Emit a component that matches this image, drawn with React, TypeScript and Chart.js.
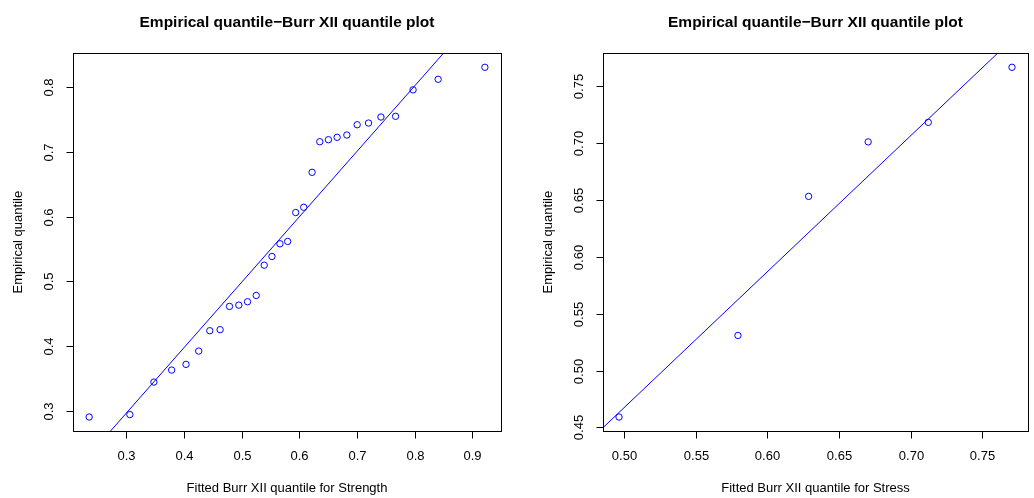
import React, { useEffect, useRef } from "react";
import { Chart, registerables } from "chart.js";

Chart.register(...registerables);

// ---- Data: Strength panel ----
const strengthFitted = [
  0.2357, 0.3063, 0.348, 0.3788, 0.4037, 0.4257, 0.4449, 0.4628, 0.4791, 0.4953,
  0.5104, 0.5254, 0.5393, 0.5527, 0.5666, 0.58, 0.5939, 0.6078, 0.6223, 0.6357,
  0.6506, 0.6657, 0.6826, 0.7005, 0.7202, 0.7417, 0.7671, 0.7974, 0.8409, 0.9219,
];
const strengthEmpirical = [
  0.2908, 0.2945, 0.3447, 0.3632, 0.372, 0.3925, 0.4239, 0.4255, 0.4614, 0.4634,
  0.4686, 0.4783, 0.525, 0.5384, 0.558, 0.5616, 0.6062, 0.6143, 0.6682, 0.7154,
  0.7185, 0.7222, 0.7257, 0.7416, 0.7442, 0.7535, 0.7546, 0.7954, 0.8117, 0.8302,
];
const strengthXTickValues = [0.3, 0.4, 0.5, 0.6, 0.7, 0.8, 0.9];
const strengthXTickLabels = ["0.3", "0.4", "0.5", "0.6", "0.7", "0.8", "0.9"];
const strengthYTickValues = [0.3, 0.4, 0.5, 0.6, 0.7, 0.8];
const strengthYTickLabels = ["0.3", "0.4", "0.5", "0.6", "0.7", "0.8"];
const strengthLineIntercept = -0.0062;
const strengthLineSlope = 1.0094;

// ---- Data: Stress panel ----
const stressFitted = [0.4963, 0.5794, 0.6288, 0.6704, 0.7124, 0.7709];
const stressEmpirical = [0.4592, 0.5309, 0.6532, 0.7011, 0.7183, 0.7667];
const stressXTickValues = [0.5, 0.55, 0.6, 0.65, 0.7, 0.75];
const stressXTickLabels = ["0.50", "0.55", "0.60", "0.65", "0.70", "0.75"];
const stressYTickValues = [0.45, 0.5, 0.55, 0.6, 0.65, 0.7, 0.75];
const stressYTickLabels = ["0.45", "0.50", "0.55", "0.60", "0.65", "0.70", "0.75"];
const stressLineIntercept = -0.1294;
const stressLineSlope = 1.194;

const TITLE = "Empirical quantile\u2212Burr XII quantile plot";
const Y_TITLE = "Empirical quantile";
const BLUE = "#0000FF";
const FONT = '"Liberation Sans", Arial, Helvetica, sans-serif';

type PanelProps = {
  xs: number[];
  ys: number[];
  xTickValues: number[];
  xTickLabels: string[];
  yTickValues: number[];
  yTickLabels: string[];
  intercept: number;
  slope: number;
  xTitle: string;
  yAxisWidth: number;
  rightPad: number;
};

function rRange(v: number[]) {
  const lo = Math.min(...v);
  const hi = Math.max(...v);
  const d = (hi - lo) * 0.04;
  return [lo - d, hi + d];
}

function Panel(p: PanelProps) {
  const ref = useRef<HTMLCanvasElement | null>(null);
  useEffect(() => {
    if (!ref.current) return;
    const [xMin, xMax] = rRange(p.xs);
    const [yMin, yMax] = rRange(p.ys);
    const pts = p.xs.map((x, i) => ({ x, y: p.ys[i] }));
    const linePts = [xMin, xMax].map((x) => ({ x, y: p.intercept + p.slope * x }));

    const decor = {
      id: "rdecor",
      afterDraw(chart: any) {
        const ctx = chart.ctx as CanvasRenderingContext2D;
        const a = chart.chartArea;
        const sx = chart.scales.x;
        const sy = chart.scales.y;
        ctx.save();
        ctx.strokeStyle = "#000";
        ctx.lineWidth = 1;
        const L = Math.round(a.left) + 0.5;
        const R = Math.round(a.right) + 0.5;
        const T = Math.round(a.top) + 0.5;
        const B = Math.round(a.bottom) + 0.5;
        ctx.strokeRect(L, T, R - L, B - T);
        ctx.fillStyle = "#000";
        ctx.font = `13px ${FONT}`;
        // x ticks
        ctx.textAlign = "center";
        ctx.textBaseline = "middle";
        p.xTickValues.forEach((v, i) => {
          const px = Math.round(sx.getPixelForValue(v)) + 0.5;
          ctx.beginPath();
          ctx.moveTo(px, B);
          ctx.lineTo(px, B + 7);
          ctx.stroke();
          ctx.fillText(p.xTickLabels[i], px, a.bottom + 25);
        });
        // y ticks
        p.yTickValues.forEach((v, i) => {
          const py = Math.round(sy.getPixelForValue(v)) + 0.5;
          ctx.beginPath();
          ctx.moveTo(L, py);
          ctx.lineTo(L - 7, py);
          ctx.stroke();
          ctx.save();
          ctx.translate(a.left - 24, py);
          ctx.rotate(-Math.PI / 2);
          ctx.fillText(p.yTickLabels[i], 0, 0);
          ctx.restore();
        });
        // axis titles
        ctx.fillText(p.xTitle, (a.left + a.right) / 2, a.bottom + 57);
        ctx.save();
        ctx.translate(a.left - 55, (a.top + a.bottom) / 2);
        ctx.rotate(-Math.PI / 2);
        ctx.fillText(Y_TITLE, 0, 0);
        ctx.restore();
        // main title
        ctx.font = `bold 15.5px ${FONT}`;
        ctx.fillText(TITLE, (a.left + a.right) / 2, a.top - 31);
        ctx.restore();
      },
    };

    const chart = new Chart(ref.current, {
      type: "scatter",
      data: {
        datasets: [
          {
            data: pts,
            showLine: false,
            pointStyle: "circle",
            pointRadius: 3.2,
            pointBorderWidth: 1,
            pointBorderColor: BLUE,
            pointBackgroundColor: "rgba(0,0,0,0)",
            pointHoverRadius: 3.2,
          },
          {
            data: linePts,
            showLine: true,
            pointRadius: 0,
            borderColor: BLUE,
            borderWidth: 1,
            fill: false,
          },
        ],
      },
      options: {
        animation: false,
        responsive: true,
        maintainAspectRatio: false,
        events: [],
        layout: { padding: { top: 53.3, left: 0, right: p.rightPad, bottom: 0 } },
        plugins: { legend: { display: false }, title: { display: false }, tooltip: { enabled: false } },
        scales: {
          x: {
            type: "linear",
            min: xMin,
            max: xMax,
            grid: { display: false },
            border: { display: false },
            ticks: { display: false },
            afterFit: (s: any) => {
              s.height = 67;
            },
          },
          y: {
            type: "linear",
            min: yMin,
            max: yMax,
            grid: { display: false },
            border: { display: false },
            ticks: { display: false },
            afterFit: (s: any) => {
              s.width = p.yAxisWidth;
            },
          },
        },
      } as any,
      plugins: [decor],
    });
    return () => chart.destroy();
  }, []);
  return <canvas ref={ref} />;
}

export default function App() {
  return (
    <div style={{ position: "fixed", left: 0, top: 0, width: 1034, height: 498, background: "#fff" }}>
      <div style={{ position: "absolute", left: 0, top: 0, width: 517, height: 498 }}>
        <Panel
          xs={strengthFitted}
          ys={strengthEmpirical}
          xTickValues={strengthXTickValues}
          xTickLabels={strengthXTickLabels}
          yTickValues={strengthYTickValues}
          yTickLabels={strengthYTickLabels}
          intercept={strengthLineIntercept}
          slope={strengthLineSlope}
          xTitle="Fitted Burr XII quantile for Strength"
          yAxisWidth={73.3}
          rightPad={16.3}
        />
      </div>
      <div style={{ position: "absolute", left: 517, top: 0, width: 517, height: 498 }}>
        <Panel
          xs={stressFitted}
          ys={stressEmpirical}
          xTickValues={stressXTickValues}
          xTickLabels={stressXTickLabels}
          yTickValues={stressYTickValues}
          yTickLabels={stressYTickLabels}
          intercept={stressLineIntercept}
          slope={stressLineSlope}
          xTitle="Fitted Burr XII quantile for Stress"
          yAxisWidth={86.3}
          rightPad={6.3}
        />
      </div>
    </div>
  );
}
